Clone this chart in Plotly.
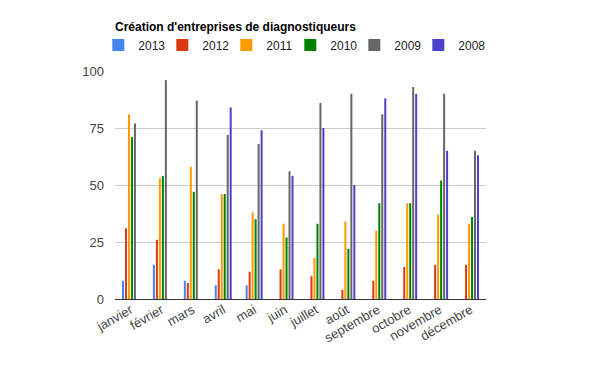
import plotly.graph_objects as go

months = ["janvier", "février", "mars", "avril", "mai", "juin", "juillet",
          "août", "septembre", "octobre", "novembre", "décembre"]

series_names = ["2013", "2012", "2011", "2010", "2009", "2008"]
colors = ["#4684ee", "#dc3912", "#ff9900", "#008000", "#666666", "#4942cc"]

v2013 = [8, 15, 8, 6, 6, None, None, None, None, None, None, None]
v2012 = [31, 26, 7, 13, 12, 13, 10, 4, 8, 14, 15, 15]
v2011 = [81, 53, 58, 46, 38, 33, 18, 34, 30, 42, 37, 33]
v2010 = [71, 54, 47, 46, 35, 27, 33, 22, 42, 42, 52, 36]
v2009 = [77, 96, 87, 72, 68, 56, 86, 90, 81, 93, 90, 65]
v2008 = [None, None, None, 84, 74, 54, 75, 50, 88, 90, 65, 63]

values = [v2013, v2012, v2011, v2010, v2009, v2008]

y_ticks = [0, 25, 50, 75, 100]

fig = go.Figure()
for i, (name, col, vals) in enumerate(zip(series_names, colors, values)):
    fig.add_trace(go.Bar(x=months, y=vals, name=name, marker_color=col,
                         marker_line_width=0,
                         legendwidth=19 if i < len(series_names) - 1 else 32))

fig.update_layout(
    width=600, height=371,
    margin=dict(l=115, r=114, t=71, b=72, autoexpand=False),
    paper_bgcolor="white", plot_bgcolor="white",
    barmode="group", bargap=0.42, bargroupgap=0.33,
    font=dict(family="Liberation Sans, Arial, sans-serif", color="#444444"),
    title=dict(text="<b>Création d'entreprises de diagnostiqueurs</b>",
               x=115/600, xanchor="left", xref="container",
               y=1-26.7/371, yanchor="middle", yref="container",
               pad=dict(l=0, r=0, t=0, b=0),
               font=dict(size=12, color="#000000")),
    legend=dict(orientation="h", x=-0.045, xanchor="left",
                y=1.114, yanchor="middle",
                bgcolor="rgba(0,0,0,0)",
                font=dict(size=12, color="#222222"),
                entrywidthmode="pixels",
                itemwidth=30, traceorder="normal"),
    xaxis=dict(tickangle=-30, tickfont=dict(size=13, color="#444444"),
               showgrid=False, ticks="", showline=False),
    yaxis=dict(range=[0, 100], tickvals=y_ticks,
               tickfont=dict(size=13, color="#444444"),
               showgrid=True, gridcolor="#cccccc", gridwidth=1,
               zeroline=True, zerolinecolor="#333333", zerolinewidth=1,
               ticks="", ticklabelstandoff=10, showline=False),
)

fig.write_html("out.html", config={"displayModeBar": False},
               post_script="document.body.style.margin='0';")
